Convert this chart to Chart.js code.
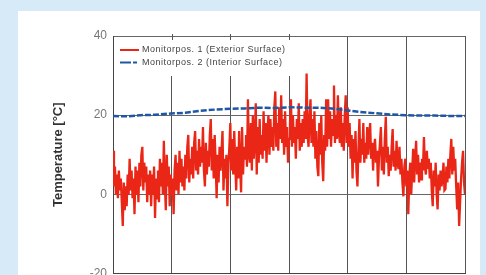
<!DOCTYPE html>
<html>
<head>
<meta charset="utf-8">
<title>Monitor positions temperature</title>
<script src="https://cdn.jsdelivr.net/npm/chart.js@4.4.1/dist/chart.umd.min.js"></script>
<style>
    html, body { margin: 0; padding: 0; width: 486px; height: 275px; overflow: hidden; background: #d6eaf8; }
    .panel { position: absolute; left: 18px; top: 11px; width: 462px; height: 300px; background: #fff; }
</style>
</head>
<body>
<div class="panel"><canvas id="tempChart"></canvas></div>
<script>
// x axis runs over the year in days, gridlines every 60 days
const xTicks = [0, 60, 120, 180, 240, 300, 360];
const yTicks = [-20, 0, 20, 40];

const seriesLabels = ['Monitorpos. 1 (Exterior Surface)', 'Monitorpos. 2 (Interior Surface)'];

// exterior surface, one reading per day
const exteriorStep = 1;
const exteriorTemp = [
    11, 2, 7, 0, 5, -1, 6, 1, 4, -2, -8, 3, -4, 2, -3, 5, 0, 9, 1, 6,
    -1, 4, -5, 7, 0, 6, -2, 8, 2, 10, 12, 1, 8, 3, 7, -2, 5, 0, 6, -3,
    5, 0, 7, -6, 4, -1, 6, -2, 9, 2, 8, 0, 13.5, 3, -4, 10, 2, 7, -3, 5,
    0, 4, -5, 6, 10, 1, 8, 0, 11, 3, 9, 2, 7, 1, 10, 4, 12, 15, 3, 9,
    5, 12, 4, 13, 16, 6, 11, 5, 14, 7, 12, 8, 17, 6, 2, 13, 5, 11, 7, 15,
    19, 6, 14, 4, 15, 8, -1, 10, 3, 12, 6, 11, 16, 1, 9, 4, 10, -3, 7, 12,
    18, 6, 14, 5, 16, 8, 1, 12, 4, 16, 7, 0.5, 17, 5, 12, 9, 15, 7, 24, 10,
    8, 18, 6, 20, 9, 14, 23, 5, 17, 8, 19, 10, 15, 9, 21, 11, 18, 8, 16, 20,
    10, 19, 12, 17, 11, 22, 26, 12, 18, 11, 22, 14, 25, 13, 19, 10, 21, 12, 17, 8,
    14, 18, 24, 12, 20, 13, 17, 9, 19, 14, 23, 11, 18, 12, 19, 13, 21, 14, 30.5, 15,
    12, 20, 24, 13, 19, 12, 21, 9, 16, 7, 4.6, 18, 10, 20, 8, 3.3, 15, 11, 24, 12,
    24, 14, 21, 12, 19, 15, 27.5, 13, 20, 14, 25, 16, 13, 22, 12, 18, 11, 20, 25, 13,
    22, 12, 18, 9, 15, 4, 14, 8, 16, 6, 2, 11, 19, 8, 14, 10, 18, 8, 13, 9,
    17, 10, 15, 18, 9, 13, 6, 12, 14, 8, 11, 2, 9, 13, 17, 6, 12, 5, 14, 19.6,
    8, 12, 4.6, 10, 6, 12, 16.5, 7, 11, 6, 13.5, 8, 6.4, 12, 5, 9, 3, -0.5, 7, 9,
    2, 6, -5, 4, 8, 0, 6, 11.5, 3, 9, 13.5, 5, 10, 3, 8, 3.8, 9, 6, 14.5, 7,
    5, 11, 6.4, 9, 4, 8, 1, -3, 6, 2, 8, 0, -3.8, 5, 1, 6, 2, 4, 8, 1,
    1.3, 7, 3, 9, 4, 10, 14, 5, 12, 6, 9, 2, -3.8, 3, -8, -2, 4, 8, 11, 3, 0
];

// interior surface
const interiorDays = [0, 14, 28, 43, 59, 74, 89, 104, 120, 135, 150, 166, 181, 196, 212, 227, 240, 253, 268, 283, 299, 314, 329, 345, 360];
const interiorTemp = [19.8, 19.7, 20.0, 20.1, 20.4, 20.6, 21.1, 21.4, 21.6, 21.7, 21.9, 21.8, 22.0, 21.9, 21.9, 21.6, 21.2, 20.8, 20.5, 20.2, 20.0, 19.9, 19.9, 19.8, 19.8];

const RED = 'rgb(234, 38, 22)';
const BLUE = 'rgb(30, 88, 165)';

// legend sits inside the plot, top left, on a white box
const insetLegend = {
    id: 'insetLegend',
    beforeDatasetsDraw(chart) {
        const { ctx, chartArea: a, scales } = chart;
        ctx.save();
        ctx.fillStyle = '#fff';
        ctx.fillRect(a.left + 1, a.top + 1, 182, 39);

        // small ticks along top edge where the gridlines are hidden
        ctx.strokeStyle = '#555';
        ctx.lineWidth = 1;
        ctx.beginPath();
        xTicks.forEach(v => {
            const px = Math.round(scales.x.getPixelForValue(v)) + 0.5;
            if (px > a.left + 2 && px < a.left + 184) {
                ctx.moveTo(px, a.top - 2);
                ctx.lineTo(px, a.top + 4);
            }
        });
        ctx.stroke();

        const samples = [
            { color: RED, dash: [] },
            { color: BLUE, dash: [11, 2, 4, 2] }
        ];
        ctx.font = "9px 'Liberation Sans', Arial, sans-serif";
        ctx.letterSpacing = '0.5px';
        ctx.textBaseline = 'middle';
        chart.data.datasets.forEach((ds, i) => {
            const y = a.top + 14 + i * 12.5;
            ctx.strokeStyle = samples[i].color;
            ctx.lineWidth = 2;
            ctx.setLineDash(samples[i].dash);
            ctx.beginPath();
            ctx.moveTo(a.left + 7, y);
            ctx.lineTo(a.left + 26, y);
            ctx.stroke();
            ctx.setLineDash([]);
            ctx.fillStyle = '#444';
            ctx.fillText(ds.label, a.left + 29, y);
        });
        ctx.restore();
    }
};

const renderChart = () => {
    const canvas = document.getElementById('tempChart');
    if (!canvas) {
        console.error('Canvas element not found');
        return;
    }
    Chart.defaults.font.family = "'Liberation Sans', Arial, sans-serif";

    new Chart(canvas.getContext('2d'), {
        type: 'line',
        data: {
            datasets: [
                {
                    label: seriesLabels[0],
                    data: exteriorTemp.map((t, i) => ({ x: i * exteriorStep, y: t })),
                    borderColor: RED,
                    borderWidth: 2.3,
                    pointRadius: 0,
                    tension: 0,
                    order: 2
                },
                {
                    label: seriesLabels[1],
                    data: interiorTemp.map((t, i) => ({ x: interiorDays[i], y: t })),
                    borderColor: BLUE,
                    borderWidth: 2.5,
                    borderDash: [6, 2],
                    pointRadius: 0,
                    tension: 0,
                    order: 1
                }
            ]
        },
        options: {
            responsive: true,
            maintainAspectRatio: false,
            animation: false,
            layout: { padding: { left: 0, right: 15, top: 25, bottom: 0 } },
            plugins: {
                legend: { display: false },
                tooltip: { enabled: false }
            },
            scales: {
                x: {
                    type: 'linear',
                    min: xTicks[0],
                    max: xTicks[xTicks.length - 1],
                    afterBuildTicks: scale => { scale.ticks = xTicks.map(v => ({ value: v })); },
                    afterFit: scale => { scale.height = 37.5; },
                    ticks: { display: false },
                    grid: { color: '#555', drawTicks: false },
                    border: { color: '#444' }
                },
                y: {
                    min: yTicks[0],
                    max: yTicks[yTicks.length - 1],
                    afterBuildTicks: scale => { scale.ticks = yTicks.map(v => ({ value: v })); },
                    afterFit: scale => { scale.width = 95; },
                    ticks: { color: '#777', font: { size: 12 }, padding: 6 },
                    grid: { color: '#666', drawTicks: false },
                    border: { color: '#444' },
                    title: {
                        display: true,
                        text: 'Temperature [°C]',
                        color: '#333',
                        font: { size: 13, weight: 'bold' },
                        padding: { top: 33, bottom: 0 }
                    }
                }
            }
        },
        plugins: [insetLegend]
    });
};

document.addEventListener('DOMContentLoaded', function() {
    renderChart();
});
</script>
</body>
</html>
